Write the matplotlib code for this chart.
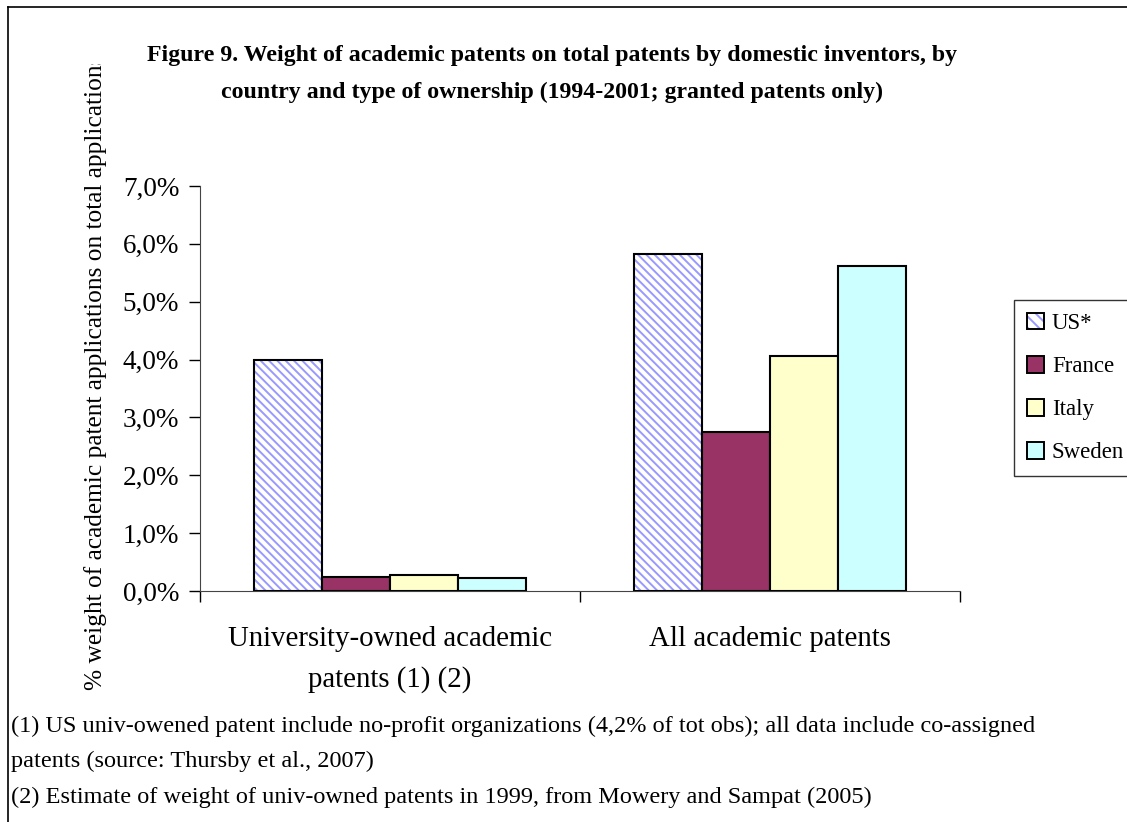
import matplotlib.pyplot as plt
from matplotlib.lines import Line2D
from matplotlib.patches import Rectangle
from matplotlib.ticker import FuncFormatter, FixedLocator

plt.rcParams['font.family'] = ['Liberation Serif', 'DejaVu Serif']
plt.rcParams['hatch.linewidth'] = 1.4

# data (share of total patents)
groups = ['University-owned academic\npatents (1) (2)', 'All academic patents']
countries = ['US*', 'France', 'Italy', 'Sweden']
us = [0.0400, 0.0582]
france = [0.0025, 0.0275]
italy = [0.0028, 0.0406]
sweden = [0.0022, 0.0562]
yticks = [0, 0.01, 0.02, 0.03, 0.04, 0.05, 0.06, 0.07]

W, H = 1127, 822
fig = plt.figure(figsize=(W / 100, H / 100), dpi=100)
ax = fig.add_axes([200 / W, 1 - 591 / H, 760 / W, 405 / H])

series = [us, france, italy, sweden]
faces = ['white', '#993366', '#FFFFCC', '#CCFFFF']
hatches = ['\\\\\\\\', None, None, None]
w = 0.179
x = [0, 1]
for i, (vals, fc, ht) in enumerate(zip(series, faces, hatches)):
    pos = [xx + (i - 1.5) * w for xx in x]
    if ht:
        ax.bar(pos, vals, w, color=fc, hatch=ht, edgecolor='#9999FF', linewidth=0)
        ax.bar(pos, vals, w, fill=False, edgecolor='black', linewidth=1.5)
    else:
        ax.bar(pos, vals, w, color=fc, edgecolor='black', linewidth=1.5)

ax.set_xlim(-0.5, 1.5)
ax.set_ylim(0, 0.07)
ax.set_yticks(yticks)
ax.yaxis.set_major_formatter(FuncFormatter(lambda v, p: f'{v * 100:.1f}%'.replace('.', ',')))
ax.xaxis.set_major_locator(FixedLocator([-0.5, 0.5, 1.5]))
ax.xaxis.set_major_formatter(FuncFormatter(lambda v, p: ''))
ax.xaxis.set_minor_locator(FixedLocator(x))
ax.set_xticklabels(groups, minor=True)
ax.tick_params(axis='x', which='minor', length=0, pad=25, labelsize=20.8)
ax.tick_params(axis='x', which='major', length=8, width=1, direction='out')
ax.tick_params(axis='y', length=8, width=1, direction='out', labelsize=19.5, pad=7)
for lab in ax.get_xticklabels(minor=True):
    lab.set_linespacing(1.72)
for s in ['top', 'right']:
    ax.spines[s].set_visible(False)
for s in ['left', 'bottom']:
    ax.spines[s].set_color('#444444')

# y label, clipped at the top like the original
yl = fig.text(96 / W, 1 - 690 / H,
              '% weight of academic patent applications on total applications',
              rotation=90, ha='center', va='bottom', fontsize=18.3)
yl.set_clip_path(Rectangle((0, 0), W, H - 64, transform=None))

fig.text(552 / W, 1 - 55 / H,
         'Figure 9. Weight of academic patents on total patents by domestic inventors, by',
         ha='center', va='center', fontsize=17.2, fontweight='bold')
fig.text(552 / W, 1 - 92 / H,
         'country and type of ownership (1994-2001; granted patents only)',
         ha='center', va='center', fontsize=17.2, fontweight='bold')

# legend
us_handle = (Rectangle((0, 0), 1, 1, facecolor='white', hatch='\\\\\\', edgecolor='#9999FF', linewidth=0),
             Rectangle((0, 0), 1, 1, fill=False, edgecolor='black', linewidth=1.4))
handles = [us_handle] + [Rectangle((0, 0), 1, 1, facecolor=fc, edgecolor='black', linewidth=1.4)
                         for fc in faces[1:]]
leg = fig.legend(handles, countries, loc='upper left', bbox_to_anchor=(1014 / W, 1 - 300 / H),
                 frameon=True, fancybox=False, edgecolor='black', fontsize=16.5,
                 handlelength=0.75, handleheight=0.75, handletextpad=0.35,
                 labelspacing=0.95, borderpad=0.55, borderaxespad=0)
leg.get_frame().set_linewidth(1)

# footnotes
notes = ['(1) US univ-owened patent include no-profit organizations (4,2% of tot obs); all data include co-assigned',
         'patents (source: Thursby et al., 2007)',
         '(2) Estimate of weight of univ-owned patents in 1999, from Mowery and Sampat (2005)']
for yy, t in zip([726, 761, 797], notes):
    fig.text(11 / W, 1 - yy / H, t, ha='left', va='center', fontsize=17.5)

# outer frame
fig.add_artist(Line2D([8 / W, 1], [1 - 7 / H, 1 - 7 / H], color='black', lw=1.2))
fig.add_artist(Line2D([8 / W, 8 / W], [0, 1 - 7 / H], color='black', lw=1.2))

fig.savefig('out.png', dpi=100)
